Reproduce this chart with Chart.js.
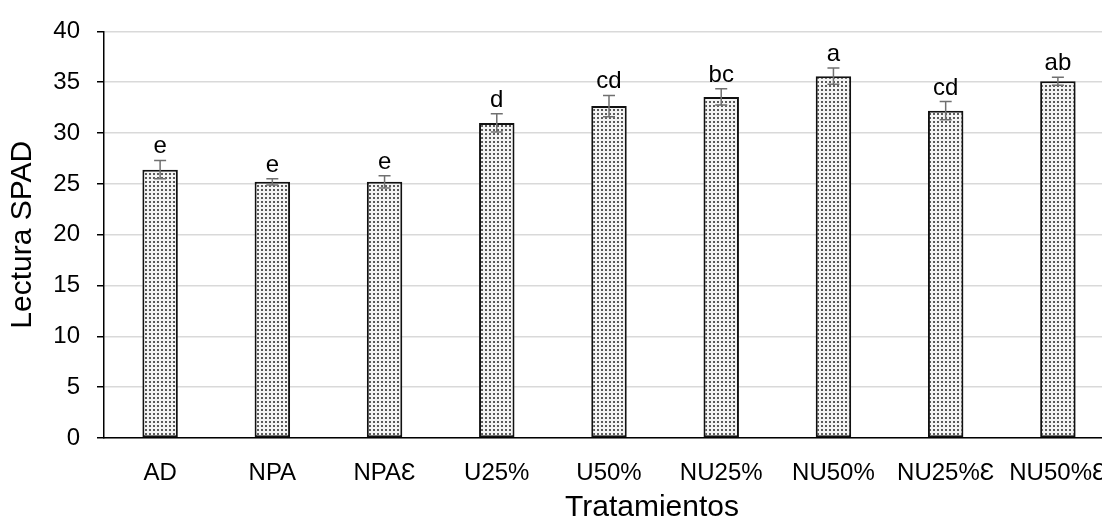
<!DOCTYPE html>
<html>
<head>
<meta charset="utf-8">
<script src="https://cdn.jsdelivr.net/npm/chart.js@4.4.1/dist/chart.umd.min.js"></script>
<style>
  html, body { margin: 0; padding: 0; background: #fff; overflow: hidden; }
  #wrap { width: 1102px; height: 519px; overflow: hidden; }
</style>
</head>
<body>
<div id="wrap"><canvas id="c" width="1115" height="519"></canvas></div>
<script>
// treatments and SPAD readings
const categories = ["AD", "NPA", "NPAƐ", "U25%", "U50%", "NU25%", "NU50%", "NU25%Ɛ", "NU50%Ɛ"];
const spadMeans = [26.4, 25.2, 25.2, 31.0, 32.65, 33.55, 35.6, 32.2, 35.1];
const spadErrors = [0.9, 0.3, 0.6, 0.9, 1.05, 0.8, 0.8, 0.9, 0.4];
const groupLetters = ["e", "e", "e", "d", "cd", "bc", "a", "cd", "ab"];
const yTicks = [0, 5, 10, 15, 20, 25, 30, 35, 40];
const xTitle = "Tratamientos";

const FONT = "'Liberation Sans', Arial, sans-serif";

// dotted fill like the original bars
function makeDots() {
    const p = document.createElement("canvas");
    p.width = 4; p.height = 4;
    const g = p.getContext("2d");
    g.fillStyle = "#f4f4f4";
    g.fillRect(0, 0, 4, 4);
    g.fillStyle = "#5a5a5a";
    g.fillRect(1, 1, 2, 2);
    return g.createPattern(p, "repeat");
}

// error bars + significance letters + x title (off-centre in the original)
const errLetters = {
    id: "errLetters",
    afterDatasetsDraw(chart) {
        const ctx = chart.ctx;
        const y = chart.scales.y;
        const meta = chart.getDatasetMeta(0);
        ctx.save();
        meta.data.forEach((bar, i) => {
            const top = y.getPixelForValue(spadMeans[i] + spadErrors[i]);
            const bot = y.getPixelForValue(spadMeans[i] - spadErrors[i]);
            ctx.strokeStyle = "#707070";
            ctx.lineWidth = 1.5;
            ctx.beginPath();
            ctx.moveTo(bar.x, top); ctx.lineTo(bar.x, bot);
            ctx.moveTo(bar.x - 6, top); ctx.lineTo(bar.x + 6, top);
            ctx.moveTo(bar.x - 6, bot); ctx.lineTo(bar.x + 6, bot);
            ctx.stroke();

            ctx.fillStyle = "#000";
            ctx.font = "24px " + FONT;
            ctx.textAlign = "center";
            ctx.textBaseline = "alphabetic";
            ctx.fillText(groupLetters[i], bar.x, top - 7);
        });

        ctx.font = "30px " + FONT;
        ctx.textAlign = "center";
        ctx.textBaseline = "alphabetic";
        ctx.fillText(xTitle, 652, 516);
        ctx.restore();
    }
};

new Chart(document.getElementById("c"), {
    type: "bar",
    data: {
        labels: categories,
        datasets: [{
            data: spadMeans,
            backgroundColor: makeDots(),
            borderColor: "#111",
            borderWidth: 2,
            borderSkipped: false,
            categoryPercentage: 1,
            barPercentage: 0.316
        }]
    },
    options: {
        responsive: false,
        animation: false,
        layout: { padding: { top: 28, right: 1, left: 0, bottom: 0 } },
        plugins: { legend: { display: false }, tooltip: { enabled: false } },
        scales: {
            x: {
                afterFit(scale) {
                    scale.height = 81;
                    scale.paddingRight = 0;
                    scale.paddingLeft = 0;
                },
                grid: { display: false, drawTicks: false },
                border: { color: "#000", width: 1.5 },
                ticks: {
                    color: "#000", font: { family: FONT, size: 24 },
                    maxRotation: 0, autoSkip: false, padding: 21
                },
                title: { display: false }
            },
            y: {
                min: 0, max: 40,
                afterBuildTicks(scale) { scale.ticks = yTicks.map(v => ({ value: v })); },
                afterFit(scale) { scale.width = 104; },
                grid: { color: "#d9d9d9", lineWidth: 1.5, tickColor: "#000", tickLength: 7 },
                border: { color: "#000", width: 1.5 },
                ticks: { color: "#000", font: { family: FONT, size: 24 }, padding: 17 },
                title: {
                    display: true, text: "Lectura SPAD", color: "#000",
                    font: { family: FONT, size: 30, lineHeight: 1 }, padding: { top: 8, bottom: 0 }
                }
            }
        }
    },
    plugins: [errLetters]
});
</script>
</body>
</html>
